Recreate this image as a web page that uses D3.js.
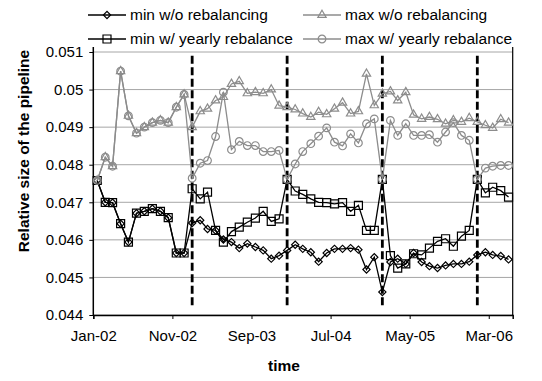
<!DOCTYPE html>
<html>
<head>
<meta charset="utf-8">
<script src="https://cdn.jsdelivr.net/npm/d3@7"></script>
<style>
  body { margin: 0; background: #fff; }
  text { font-family: "Liberation Sans", Arial, sans-serif; }
</style>
</head>
<body>
<div id="chart"></div>
<script>
// monthly observations Jan-02 .. May-06
var months = [];
for (var m = 0; m < 53; m++) months.push(new Date(2002, m, 16));

var minNoReb = [
  0.04758, 0.04700, 0.04699, 0.04643, 0.04594, 0.04671, 0.04676, 0.04683, 0.04676, 0.04659, 0.04565, 0.04565,
  0.04645, 0.04652, 0.04629, 0.04625, 0.04601, 0.04594, 0.04578, 0.04590, 0.04581, 0.04572, 0.04550, 0.04558,
  0.04572, 0.04587, 0.04576, 0.04567, 0.04542, 0.04565, 0.04576, 0.04576, 0.04578, 0.04574, 0.04521, 0.04554,
  0.04461, 0.04541, 0.04550, 0.04536, 0.04565, 0.04541, 0.04530, 0.04525, 0.04532, 0.04536, 0.04536, 0.04542,
  0.04560, 0.04567, 0.04560, 0.04557, 0.04548
];
var maxNoReb = [
  0.04758, 0.04820, 0.04796, 0.05049, 0.04930, 0.04884, 0.04900, 0.04912, 0.04918, 0.04912, 0.04953, 0.04987,
  0.04900, 0.04942, 0.04949, 0.04971, 0.04980, 0.05015, 0.05022, 0.04990, 0.04993, 0.04990, 0.05000, 0.04957,
  0.04953, 0.04947, 0.04936, 0.04927, 0.04940, 0.04934, 0.04949, 0.04965, 0.04936, 0.04942, 0.05042, 0.04958,
  0.04989, 0.04995, 0.04971, 0.04993, 0.04933, 0.04922, 0.04927, 0.04921, 0.04909, 0.04918, 0.04914, 0.04924,
  0.04914, 0.04905, 0.04898, 0.04921, 0.04912
];
var minYearly = [
  0.04758, 0.04700, 0.04699, 0.04643, 0.04594, 0.04671, 0.04676, 0.04683, 0.04676, 0.04659, 0.04565, 0.04565,
  0.04736, 0.04709, 0.04727, 0.04625, 0.04594, 0.04622, 0.04634, 0.04647, 0.04658, 0.04676, 0.04649, 0.04656,
  0.04761, 0.04730, 0.04721, 0.04709, 0.04700, 0.04699, 0.04696, 0.04699, 0.04676, 0.04692, 0.04625, 0.04625,
  0.04761, 0.04558, 0.04525, 0.04536, 0.04563, 0.04560, 0.04578, 0.04596, 0.04603, 0.04583, 0.04610, 0.04625,
  0.04761, 0.04725, 0.04740, 0.04731, 0.04714
];
var maxYearly = [
  0.04758, 0.04820, 0.04796, 0.05049, 0.04930, 0.04884, 0.04900, 0.04912, 0.04918, 0.04912, 0.04953, 0.04987,
  0.04764, 0.04804, 0.04811, 0.04875, 0.04993, 0.04840, 0.04862, 0.04851, 0.04851, 0.04835, 0.04835, 0.04838,
  0.04761, 0.04802, 0.04835, 0.04856, 0.04876, 0.04898, 0.04860, 0.04850, 0.04882, 0.04858, 0.04909, 0.04922,
  0.04761, 0.04918, 0.04878, 0.04909, 0.04878, 0.04878, 0.04880, 0.04860, 0.04887, 0.04912, 0.04878, 0.04865,
  0.04761, 0.04791, 0.04796, 0.04798, 0.04798
];

// yearly rebalancing dates (index into months) shown as dashed lines
var rebalanceIdx = [12, 24, 36, 48];
var dashRange = [0.0509, 0.0442];

var yTicks = [0.044, 0.045, 0.046, 0.047, 0.048, 0.049, 0.05, 0.051];
var xTicks = [new Date(2002, 0, 1), new Date(2002, 10, 1), new Date(2003, 8, 1),
              new Date(2004, 6, 1), new Date(2005, 4, 1), new Date(2006, 2, 1)];

var seriesNames = ["min w/o rebalancing", "max w/o rebalancing", "min w/ yearly rebalance", "max w/ yearly rebalance"];

const GRAY = "#8c8c8c";
const FONT = 15;

var series = [
  { name: seriesNames[0], values: minNoReb, color: "black", symbol: "diamond" },
  { name: seriesNames[1], values: maxNoReb, color: GRAY, symbol: "triangle" },
  { name: seriesNames[2], values: minYearly, color: "black", symbol: "square" },
  { name: seriesNames[3], values: maxYearly, color: GRAY, symbol: "circle" }
];

var width = 542, height = 381;
var plotLeft = 93.3, plotRight = 512.7, plotTop = 52, plotBottom = 315;

var svg = d3.select("#chart").append("svg")
  .attr("width", width)
  .attr("height", height);

var x = d3.scaleTime()
  .domain([new Date(2002, 0, 1), new Date(2006, 5, 1)])
  .range([plotLeft, plotRight]);

var y = d3.scaleLinear()
  .domain([0.044, 0.051])
  .range([plotBottom, plotTop]);

// gridlines
svg.append("g")
  .selectAll("line")
  .data(yTicks)
  .join("line")
  .attr("x1", plotLeft).attr("x2", plotRight)
  .attr("y1", d => y(d)).attr("y2", d => y(d))
  .attr("stroke", "#a6a6a6")
  .attr("stroke-width", 1);

// right border
svg.append("line")
  .attr("x1", plotRight).attr("x2", plotRight)
  .attr("y1", plotTop - 5).attr("y2", plotBottom)
  .attr("stroke", "black").attr("stroke-width", 1.2);

// y axis
var yAxis = svg.append("g")
  .attr("transform", `translate(${plotLeft},0)`)
  .call(d3.axisLeft(y).tickValues(yTicks).tickSize(4).tickPadding(6)
    .tickFormat(d => String(+d.toFixed(3))));
yAxis.select(".domain").attr("d", `M0,${plotTop - 5}V${plotBottom}`).attr("stroke-width", 1.5);
yAxis.selectAll("text").attr("font-size", FONT).attr("fill", "black")
  .attr("font-family", '"Liberation Sans", Arial, sans-serif');

// x axis
var xAxis = svg.append("g")
  .attr("transform", `translate(0,${plotBottom})`)
  .call(d3.axisBottom(x).tickValues(xTicks).tickSize(4).tickPadding(11)
    .tickFormat(d3.timeFormat("%b-%y")));
xAxis.select(".domain").attr("stroke-width", 1.5);
xAxis.selectAll("text").attr("font-size", FONT).attr("fill", "black")
  .attr("font-family", '"Liberation Sans", Arial, sans-serif');

// dashed rebalance lines
svg.append("g")
  .selectAll("line")
  .data(rebalanceIdx)
  .join("line")
  .attr("x1", d => x(months[d])).attr("x2", d => x(months[d]))
  .attr("y1", y(dashRange[0])).attr("y2", y(dashRange[1]))
  .attr("stroke", "black")
  .attr("stroke-width", 2.8)
  .attr("stroke-dasharray", "8,3.5");

function markerPath(sym) {
  if (sym === "diamond") return d3.symbol(d3.symbolSquare, 26)();
  if (sym === "triangle") return d3.symbol(d3.symbolTriangle, 30)();
  if (sym === "square") return d3.symbol(d3.symbolSquare, 64)();
  return d3.symbol(d3.symbolCircle, 46)();
}
function markerTransform(sym, px, py) {
  return `translate(${px},${py})` + (sym === "diamond" ? " rotate(45)" : "");
}

var line = d3.line()
  .x((d, i) => x(months[i]))
  .y(d => y(d));

series.forEach(s => {
  var g = svg.append("g");
  g.append("path")
    .attr("d", line(s.values))
    .attr("fill", "none")
    .attr("stroke", s.color)
    .attr("stroke-width", 1.3);
  g.selectAll("path.mk")
    .data(s.values)
    .join("path")
    .attr("class", "mk")
    .attr("d", markerPath(s.symbol))
    .attr("transform", (d, i) => markerTransform(s.symbol, x(months[i]), y(d)))
    .attr("fill", "none")
    .attr("stroke", s.color)
    .attr("stroke-width", 1.2);
});

// legend
var legendPos = [[88, 15], [303, 15], [88, 39], [303, 39]];
series.forEach((s, i) => {
  var lg = svg.append("g").attr("transform", `translate(${legendPos[i][0]},${legendPos[i][1]})`);
  lg.append("line").attr("x1", 0).attr("x2", 38).attr("y1", 0).attr("y2", 0)
    .attr("stroke", s.color).attr("stroke-width", 1.3);
  lg.append("path").attr("d", markerPath(s.symbol))
    .attr("transform", markerTransform(s.symbol, 19, 0))
    .attr("fill", "none").attr("stroke", s.color).attr("stroke-width", 1.2);
  lg.append("text").attr("x", 42).attr("y", 5)
    .attr("font-size", 15.5)
    .text(s.name);
});

// axis titles
svg.append("text")
  .attr("transform", "translate(29,151) rotate(-90)")
  .attr("text-anchor", "middle")
  .attr("font-size", 15.5)
  .attr("font-weight", "bold")
  .text("Relative size of the pipeline");

svg.append("text")
  .attr("x", 284).attr("y", 371)
  .attr("text-anchor", "middle")
  .attr("font-size", 15.5)
  .attr("font-weight", "bold")
  .text("time");
</script>
</body>
</html>
